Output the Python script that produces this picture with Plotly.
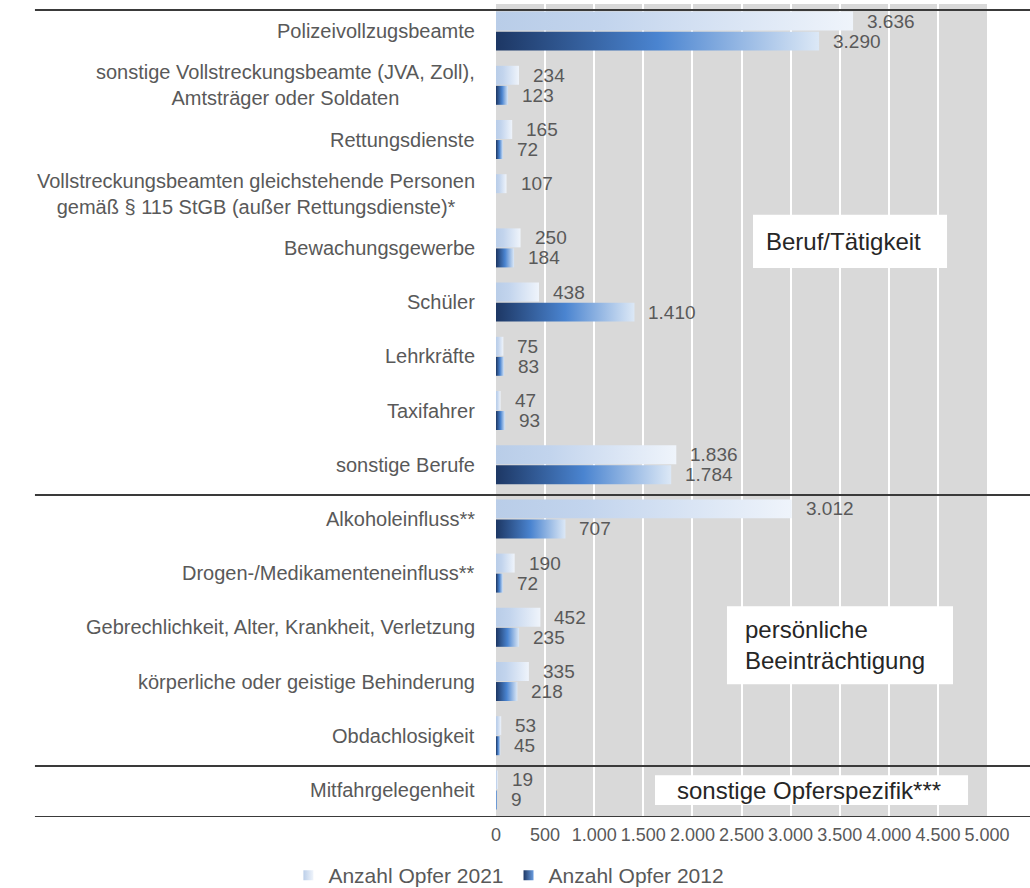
import plotly.graph_objects as go

# Opfer nach Opferspezifik: 2021 vs. 2012
categories = [
    "Polizeivollzugsbeamte",
    "sonstige Vollstreckungsbeamte (JVA, Zoll),<br>Amtsträger oder Soldaten",
    "Rettungsdienste",
    "Vollstreckungsbeamten gleichstehende Personen<br>gemäß § 115 StGB (außer Rettungsdienste)*",
    "Bewachungsgewerbe",
    "Schüler",
    "Lehrkräfte",
    "Taxifahrer",
    "sonstige Berufe",
    "Alkoholeinfluss**",
    "Drogen-/Medikamenteneinfluss**",
    "Gebrechlichkeit, Alter, Krankheit, Verletzung",
    "körperliche oder geistige Behinderung",
    "Obdachlosigkeit",
    "Mitfahrgelegenheit",
]
opfer_2021 = [3636, 234, 165, 107, 250, 438, 75, 47, 1836, 3012, 190, 452, 335, 53, 19]
opfer_2012 = [3290, 123, 72, None, 184, 1410, 83, 93, 1784, 707, 72, 235, 218, 45, 9]

series_names = ["Anzahl Opfer 2021", "Anzahl Opfer 2012"]
group_labels = ["Beruf/Tätigkeit", "persönliche<br>Beeinträchtigung", "sonstige Opferspezifik***"]
x_ticks = list(range(0, 5001, 500))

FONT = "Liberation Sans, Arial, sans-serif"
GREY_TEXT = "#595959"

scale_2021 = [[0.0, "#b9cde8"], [0.3, "#c2d4ed"], [1.0, "#eff4fb"]]
scale_2012 = [[0.0, "#1d3764"], [0.5, "#4a84d0"], [1.0, "#dce8f6"]]


def fmt(v):
    return f"{v:,}".replace(",", ".")


fig = go.Figure()
annotations = []

# each bar is a rectangle with a horizontal gradient fill
for i, (v21, v12) in enumerate(zip(opfer_2021, opfer_2012)):
    for val, y0, y1, cs, ylab in (
        (v21, i - 0.36, i - 0.01, scale_2021, i - 0.185),
        (v12, i + 0.01, i + 0.36, scale_2012, i + 0.185),
    ):
        if val is None:
            continue
        fig.add_trace(go.Scatter(
            x=[0, val, val, 0, 0],
            y=[y0, y0, y1, y1, y0],
            mode="lines",
            fill="toself",
            line=dict(width=0, color="rgba(0,0,0,0)"),
            fillgradient=dict(type="horizontal", colorscale=cs),
            hoverinfo="skip",
            showlegend=False,
        ))
        annotations.append(dict(
            x=val, y=ylab, xref="x", yref="y",
            text=fmt(val), showarrow=False,
            xanchor="left", yanchor="middle", xshift=12,
            font=dict(family=FONT, size=19, color=GREY_TEXT),
        ))

# legend entries
fig.add_trace(go.Scatter(
    x=[None], y=[None], mode="markers", name=series_names[0],
    marker=dict(symbol="square", size=10, color="#bccfe9",
                gradient=dict(type="horizontal", color="#eff4fb")),
))
fig.add_trace(go.Scatter(
    x=[None], y=[None], mode="markers", name=series_names[1],
    marker=dict(symbol="square", size=10, color="#1d3764",
                gradient=dict(type="horizontal", color="#6a9de0")),
))

# category labels, right-aligned block with centered lines
for i, cat in enumerate(categories):
    annotations.append(dict(
        x=0, y=i, xref="paper", yref="y",
        text=cat, showarrow=False, align="center",
        xanchor="right", yanchor="middle", xshift=-19,
        font=dict(family=FONT, size=20, color=GREY_TEXT),
    ))

# group labels in white boxes
boxes = [
    # x0, x1, y0, y1, text x, text y
    (2617, 4593, 3.39, 4.37, 2730, 3.88),
    (2352, 4654, 10.61, 12.05, 2520, 11.33),
    (1619, 4807, 13.73, 14.28, 1820, 14.01),
]
shapes = []
for (x0, x1, y0, y1, tx, ty), label in zip(boxes, group_labels):
    shapes.append(dict(type="rect", xref="x", yref="y", x0=x0, x1=x1, y0=y0, y1=y1,
                       fillcolor="white", line=dict(width=0), layer="above"))
    annotations.append(dict(
        x=tx, y=ty, xref="x", yref="y", text=label, showarrow=False,
        align="left", xanchor="left", yanchor="middle",
        font=dict(family=FONT, size=24, color="#262626"),
    ))

# horizontal separator rules between the groups
for yv in (-0.39, 8.56, 13.56, 14.5):
    shapes.append(dict(type="line", xref="paper", yref="y",
                       x0=-0.939, x1=1.09, y0=yv, y1=yv,
                       line=dict(color="#3a3a3a", width=2), layer="above"))

fig.update_layout(
    width=1030, height=888,
    margin=dict(l=496, r=43, t=4, b=71),
    paper_bgcolor="white",
    plot_bgcolor="#d9d9d9",
    separators=",.",
    font=dict(family=FONT, color=GREY_TEXT),
    showlegend=True,
    legend=dict(
        orientation="h", xref="container", yref="container",
        x=0.28, y=0.014, xanchor="left", yanchor="middle",
        font=dict(family=FONT, size=21, color=GREY_TEXT),
        bgcolor="rgba(0,0,0,0)",
    ),
    annotations=annotations,
    shapes=shapes,
    xaxis=dict(
        range=[0, 5000], tickvals=x_ticks, tickformat=",d",
        showgrid=True, gridcolor="white", gridwidth=2,
        zeroline=False, showline=False, ticks="",
        ticklabelstandoff=5,
        tickfont=dict(family=FONT, size=18, color=GREY_TEXT),
        fixedrange=True,
    ),
    yaxis=dict(
        range=[len(categories) - 0.5, -0.5],
        showgrid=False, zeroline=False, showticklabels=False,
        ticks="", fixedrange=True,
    ),
)

fig.write_html("out.html")
